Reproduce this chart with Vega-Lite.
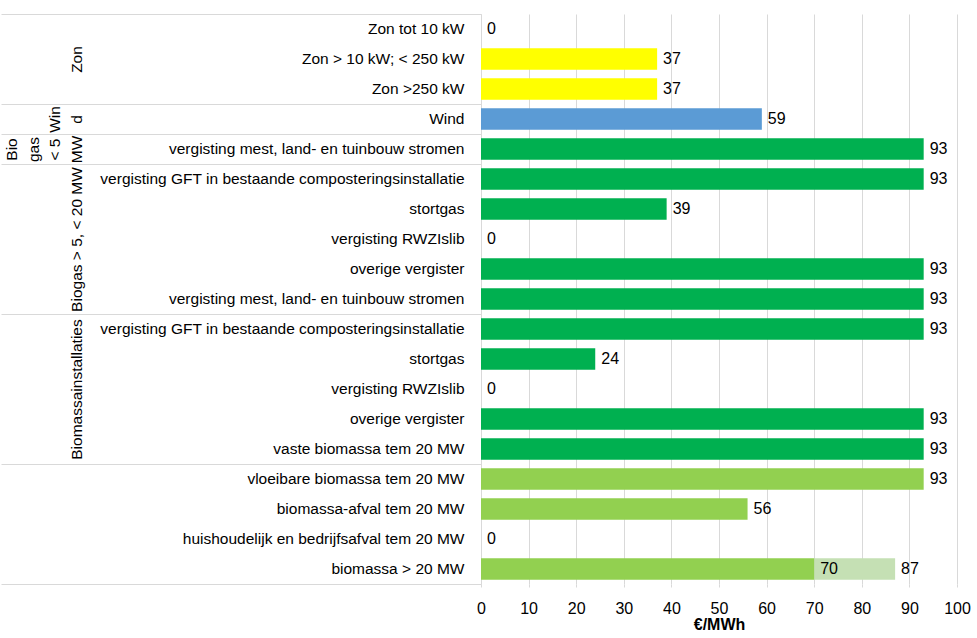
{
  "$schema": "https://vega.github.io/schema/vega-lite/v6.json",
  "background": "white",
  "padding": {"left": 0, "top": 13, "right": 5, "bottom": 5},
  "width": 476,
  "height": {"step": 30},
  "data": {
    "values": [
      {"row": "01|Zon tot 10 kW", "base": 0, "value": 0, "type": "zon"},
      {"row": "02|Zon > 10 kW; < 250 kW", "base": 0, "value": 37, "type": "zon"},
      {"row": "03|Zon >250 kW", "base": 0, "value": 37, "type": "zon"},
      {"row": "04|Wind", "base": 0, "value": 59, "type": "wind"},
      {"row": "05|vergisting mest, land- en tuinbouw stromen", "base": 0, "value": 93, "type": "biogas"},
      {"row": "06|vergisting GFT in bestaande composteringsinstallatie", "base": 0, "value": 93, "type": "biogas"},
      {"row": "07|stortgas", "base": 0, "value": 39, "type": "biogas"},
      {"row": "08|vergisting RWZIslib", "base": 0, "value": 0, "type": "biogas"},
      {"row": "09|overige vergister", "base": 0, "value": 93, "type": "biogas"},
      {"row": "10|vergisting mest, land- en tuinbouw stromen", "base": 0, "value": 93, "type": "biogas"},
      {"row": "11|vergisting GFT in bestaande composteringsinstallatie", "base": 0, "value": 93, "type": "biogas"},
      {"row": "12|stortgas", "base": 0, "value": 24, "type": "biogas"},
      {"row": "13|vergisting RWZIslib", "base": 0, "value": 0, "type": "biogas"},
      {"row": "14|overige vergister", "base": 0, "value": 93, "type": "biogas"},
      {"row": "15|vaste biomassa tem 20 MW", "base": 0, "value": 93, "type": "biogas"},
      {"row": "16|vloeibare biomassa tem 20 MW", "base": 0, "value": 93, "type": "biomassa"},
      {"row": "17|biomassa-afval tem 20 MW", "base": 0, "value": 56, "type": "biomassa"},
      {"row": "18|huishoudelijk en bedrijfsafval tem 20 MW", "base": 0, "value": 0, "type": "biomassa"},
      {"row": "19|biomassa > 20 MW", "base": 70, "value": 87, "type": "biomassa extra"},
      {"row": "19|biomassa > 20 MW", "base": 0, "value": 70, "type": "biomassa"}
    ]
  },
  "layer": [
    {
      "mark": {"type": "bar", "height": {"band": 0.72}},
      "encoding": {
        "y": {
          "field": "row", "type": "nominal", "sort": "ascending",
          "scale": {"paddingInner": 0, "paddingOuter": 0},
          "axis": {
            "orient": "left", "title": null,
            "labelExpr": "slice(datum.value, 3)",
            "labelFontSize": 15.5, "labelColor": "#000000", "labelPadding": 17, "labelLimit": 1000,
            "ticks": false, "domain": true, "domainColor": "#d9d9d9", "grid": false
          }
        },
        "x": {
          "field": "value", "type": "quantitative",
          "scale": {"domain": [0, 100]},
          "title": "€/MWh",
          "axis": {
            "values": [0, 10, 20, 30, 40, 50, 60, 70, 80, 90, 100],
            "grid": true, "gridColor": "#d9d9d9", "domain": false, "labelFlush": false,
            "ticks": true, "tickSize": 3, "tickColor": "#d9d9d9",
            "labelFontSize": 16, "labelColor": "#000000", "labelPadding": 13,
            "titleFont": "Liberation Sans", "titleFontSize": 16, "titleFontWeight": "bold",
            "titleColor": "#000000", "titlePadding": 0
          }
        },
        "x2": {"field": "base"},
        "color": {
          "field": "type", "type": "nominal", "legend": null,
          "scale": {
            "domain": ["zon", "wind", "biogas", "biomassa", "biomassa extra"],
            "range": ["#FFFF00", "#5B9BD5", "#00B050", "#92D050", "#C5E0B4"]
          }
        }
      }
    },
    {
      "mark": {"type": "text", "align": "left", "baseline": "middle", "dx": 6, "fontSize": 16, "color": "#000000"},
      "encoding": {
        "y": {
          "field": "row", "type": "nominal", "sort": "ascending",
          "axis": {
            "orient": "right", "offset": -956, "title": null,
            "domain": false, "grid": false, "ticks": true,
            "tickBand": "extent", "tickSize": 480, "tickColor": "#d9d9d9",
            "tickOpacity": {"condition": {"test": "datum.index < 0 || (isString(datum.value) && indexof(['03','04','05','10','15','19'], slice(datum.value, 0, 2)) >= 0)", "value": 1}, "value": 0},
            "labelExpr": "isString(datum.value) ? (slice(datum.value,0,2) == '02' ? ['\u2800','\u2800','\u2800','Zon'] : slice(datum.value,0,2) == '04' ? ['\u2800','\u2800','Win','d'] : slice(datum.value,0,2) == '05' ? ['Bio','gas','< 5','MW'] : slice(datum.value,0,2) == '08' ? ['\u2800','\u2800','\u2800','Biogas > 5, < 20 MW'] : slice(datum.value,0,2) == '13' ? ['\u2800','\u2800','\u2800','Biomassainstallaties'] : '') : ''",
            "labelAngle": -90, "labelAlign": "center", "labelBaseline": "alphabetic",
            "labelPadding": -464.5, "labelFontSize": 15.5, "labelLineHeight": 21.5,
            "labelLimit": 1000, "labelColor": "#000000"
          }
        },
        "x": {"field": "value", "type": "quantitative"},
        "text": {"field": "value", "type": "quantitative"}
      }
    }
  ],
  "resolve": {"axis": {"y": "independent"}},
  "config": {
    "font": "Liberation Sans",
    "view": {"stroke": null}
  }
}
